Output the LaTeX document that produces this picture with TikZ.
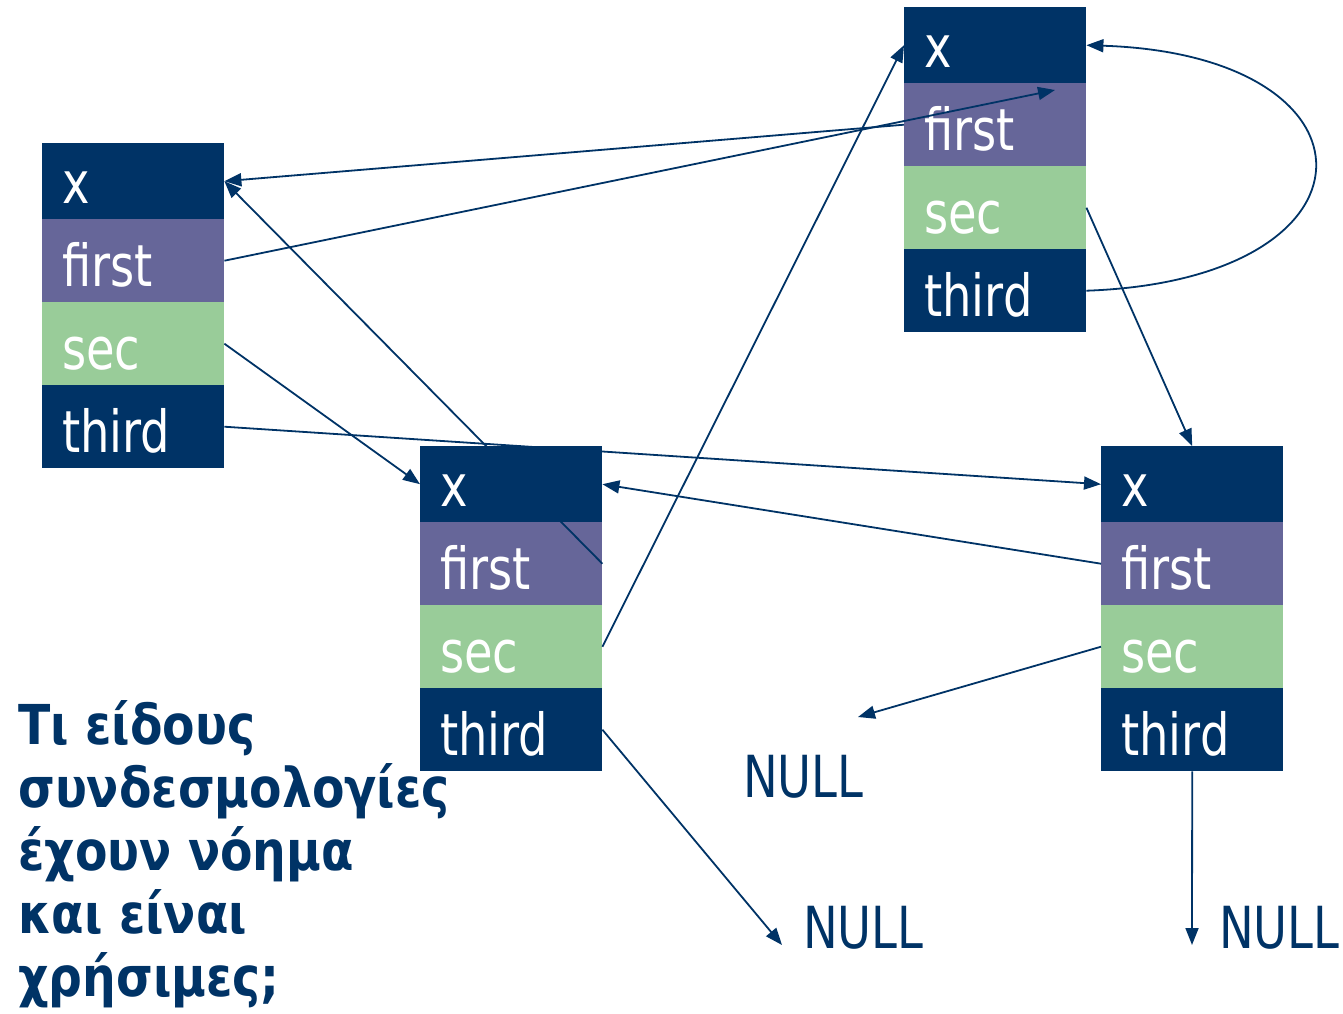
\documentclass[tikz,border=0pt]{standalone}
\usepackage{fontspec}
\usetikzlibrary{arrows.meta}
\newfontfamily\cellfont[FakeStretch=0.8]{DejaVu Sans}
\newfontfamily\questfont[FakeStretch=0.86]{DejaVu Sans Bold}
\definecolor{navy}{HTML}{003366}
\definecolor{lilac}{HTML}{666699}
\definecolor{sage}{HTML}{99CC99}
\tikzset{
  cellbox/.style={rectangle, inner sep=0pt, minimum width=182pt, draw=none, anchor=north west},
  celltext/.style={text=white, inner sep=0pt, anchor=base west, font=\cellfont\fontsize{58}{60}\selectfont},
  nulltext/.style={text=navy, inner sep=0pt, anchor=base west, font=\cellfont\fontsize{58}{60}\selectfont},
  link/.style={draw=navy, line width=1.8pt, -{Triangle[length=17pt,width=13pt]}},
}
% one coloured cell of a record, with its field name
\newcommand\fieldcell[6]{%
  \node[cellbox, fill=#5, minimum height=#4pt] (#1) at (#2,#3) {};
  \node[celltext] (#1-lbl) at ([xshift=20pt,yshift=16pt]#1.south west) {#6};}
% a whole record: x, first, sec, third
\newcommand\record[3]{%
  \fieldcell{#1x}{#2}{#3}{76}{navy}{x}
  \fieldcell{#1f}{#2}{#3+76}{83}{lilac}{first}
  \fieldcell{#1s}{#2}{#3+159}{83}{sage}{sec}
  \fieldcell{#1t}{#2}{#3+242}{83}{navy}{third}}
\begin{document}
\begin{tikzpicture}[x=1pt,y=-1pt]
\useasboundingbox (0,0) rectangle (1343,1013);

\record{a}{42}{143}
\record{b}{420}{446}
\record{c}{904}{7}
\record{d}{1101}{446}

\node[nulltext] (null1) at (743,797) {NULL};
\node[nulltext] (null2) at (803,948) {NULL};
\node[nulltext] (null3) at (1219,948) {NULL};

\coordinate (cin) at (1055,90);
\coordinate (n1) at (858,717);
\coordinate (n2) at (782,945);
\coordinate (n3) at (1192,945);

\draw[link] (at.east) -- (dx.west);
\draw[link] (as.east) -- (bx.west);
\draw[link] (af.east) -- (cin);
\draw[link] (cf.west) -- (ax.east);
\draw[link] (bf.east) -- (ax.east);
\draw[link] (bs.east) -- (cx.west);
\draw[link] (cs.east) -- (dx.north);
\draw[link] (ct.east) .. controls (1390,280) and (1390,55) .. (cx.east);
\draw[link] (df.west) -- (bx.east);
\draw[link] (ds.west) -- (n1);
\draw[link] (bt.east) -- (n2);
\draw[link] (dt.south) -- (n3);

\node[anchor=north west, inner sep=0pt, align=left, text=navy,
      font=\questfont\fontsize{55}{63}\selectfont] (question) at (18,700)
  {Τι είδους\\συνδεσμολογίες\\έχουν νόημα\\και είναι\\χρήσιμες;};
\end{tikzpicture}
\end{document}
